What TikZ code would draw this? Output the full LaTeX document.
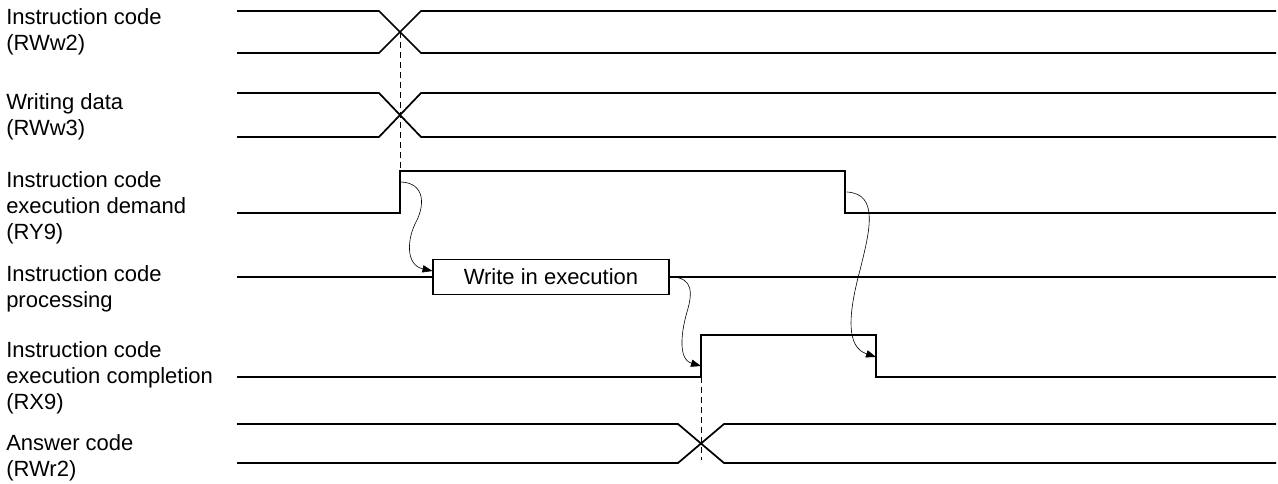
\documentclass[tikz,border=0pt]{standalone}
\usepackage{fontspec}
\setmainfont{Liberation Sans}
\usetikzlibrary{arrows.meta}

\begin{document}
\begin{tikzpicture}[%
x=0.75pt, y=-0.75pt,
>={Triangle[length=7.5pt,width=5.5pt]},
wave/.style={line width=1.3pt},
guide/.style={dash pattern=on 4.5pt off 3pt, line width=0.6pt},
hint/.style={->, line width=0.45pt},
lbl/.style={anchor=north west, inner sep=0pt, align=left,
  font=\fontsize{16.5}{19.5}\selectfont}
]
\useasboundingbox (0,0) rectangle (1278,484);

% signal names
\node[lbl] (rww2) at (6,8) {Instruction code\\(RWw2)};
\node[lbl] (rww3) at (6,93) {Writing data\\(RWw3)};
\node[lbl] (ry9) at (6,171) {Instruction code\\execution demand\\(RY9)};
\node[lbl] (proc) at (6,265) {Instruction code\\processing};
\node[lbl] (rx9) at (6,341) {Instruction code\\execution completion\\(RX9)};
\node[lbl] (rwr2) at (6,434) {Answer code\\(RWr2)};

% data words RWw2, RWw3
\foreach \t/\b in {11/53, 93/137} {
  \draw[wave] (237,\t) -- (379,\t) -- (421,\b) -- (1276,\b);
  \draw[wave] (237,\b) -- (379,\b) -- (421,\t) -- (1276,\t);
}
\coordinate (x1) at (400,32);

% RY9
\coordinate (dmdUp) at (400,171);
\coordinate (dmdDn) at (845,171);
\draw[wave] (237,213) -- (400,213) -- (dmdUp) -- (dmdDn) -- (845,213) -- (1276,213);

% processing
\node[draw, line width=0.8pt, minimum width=177pt, minimum height=26pt,
  inner sep=0pt, font=\fontsize{16.5}{19.5}\selectfont] (wie) at (551,277) {Write in execution};
\draw[wave] (237,277) -- (wie.west);
\draw[wave] (wie.east) -- (1276,277);

% RX9
\coordinate (cmpUp) at (701,335);
\coordinate (cmpDn) at (876,335);
\draw[wave] (237,377) -- (701,377) -- (cmpUp) -- (cmpDn) -- (876,377) -- (1276,377);

% answer RWr2
\draw[wave] (237,424) -- (678,424) -- (724,463) -- (1276,463);
\draw[wave] (237,463) -- (678,463) -- (724,424) -- (1276,424);
\coordinate (ansEnd) at (701,460);

% timing guides
\draw[guide] (x1) -- (dmdUp);
\draw[guide] (cmpUp |- 0,377) -- (ansEnd);

% handshake
\draw[hint] ([shift={(1,11)}]dmdUp) .. controls +(24,1) and +(9,-17) .. (416,222)
  .. controls +(-9,17) and +(-27,-6) .. ([shift={(0,-6)}]wie.west);
\draw[hint] ([shift={(1,0)}]wie.east) .. controls +(24,0) and +(5,-17) .. (687,312)
  .. controls +(-5,17) and +(-24,-7) .. ([shift={(0,31)}]cmpUp);
\draw[hint] ([shift={(2,21)}]dmdDn) .. controls +(32,2) and +(10,-40) .. (860,270)
  .. controls +(-12,45) and +(-30,-10) .. ([shift={(0,22)}]cmpDn);
\end{tikzpicture}
\end{document}
